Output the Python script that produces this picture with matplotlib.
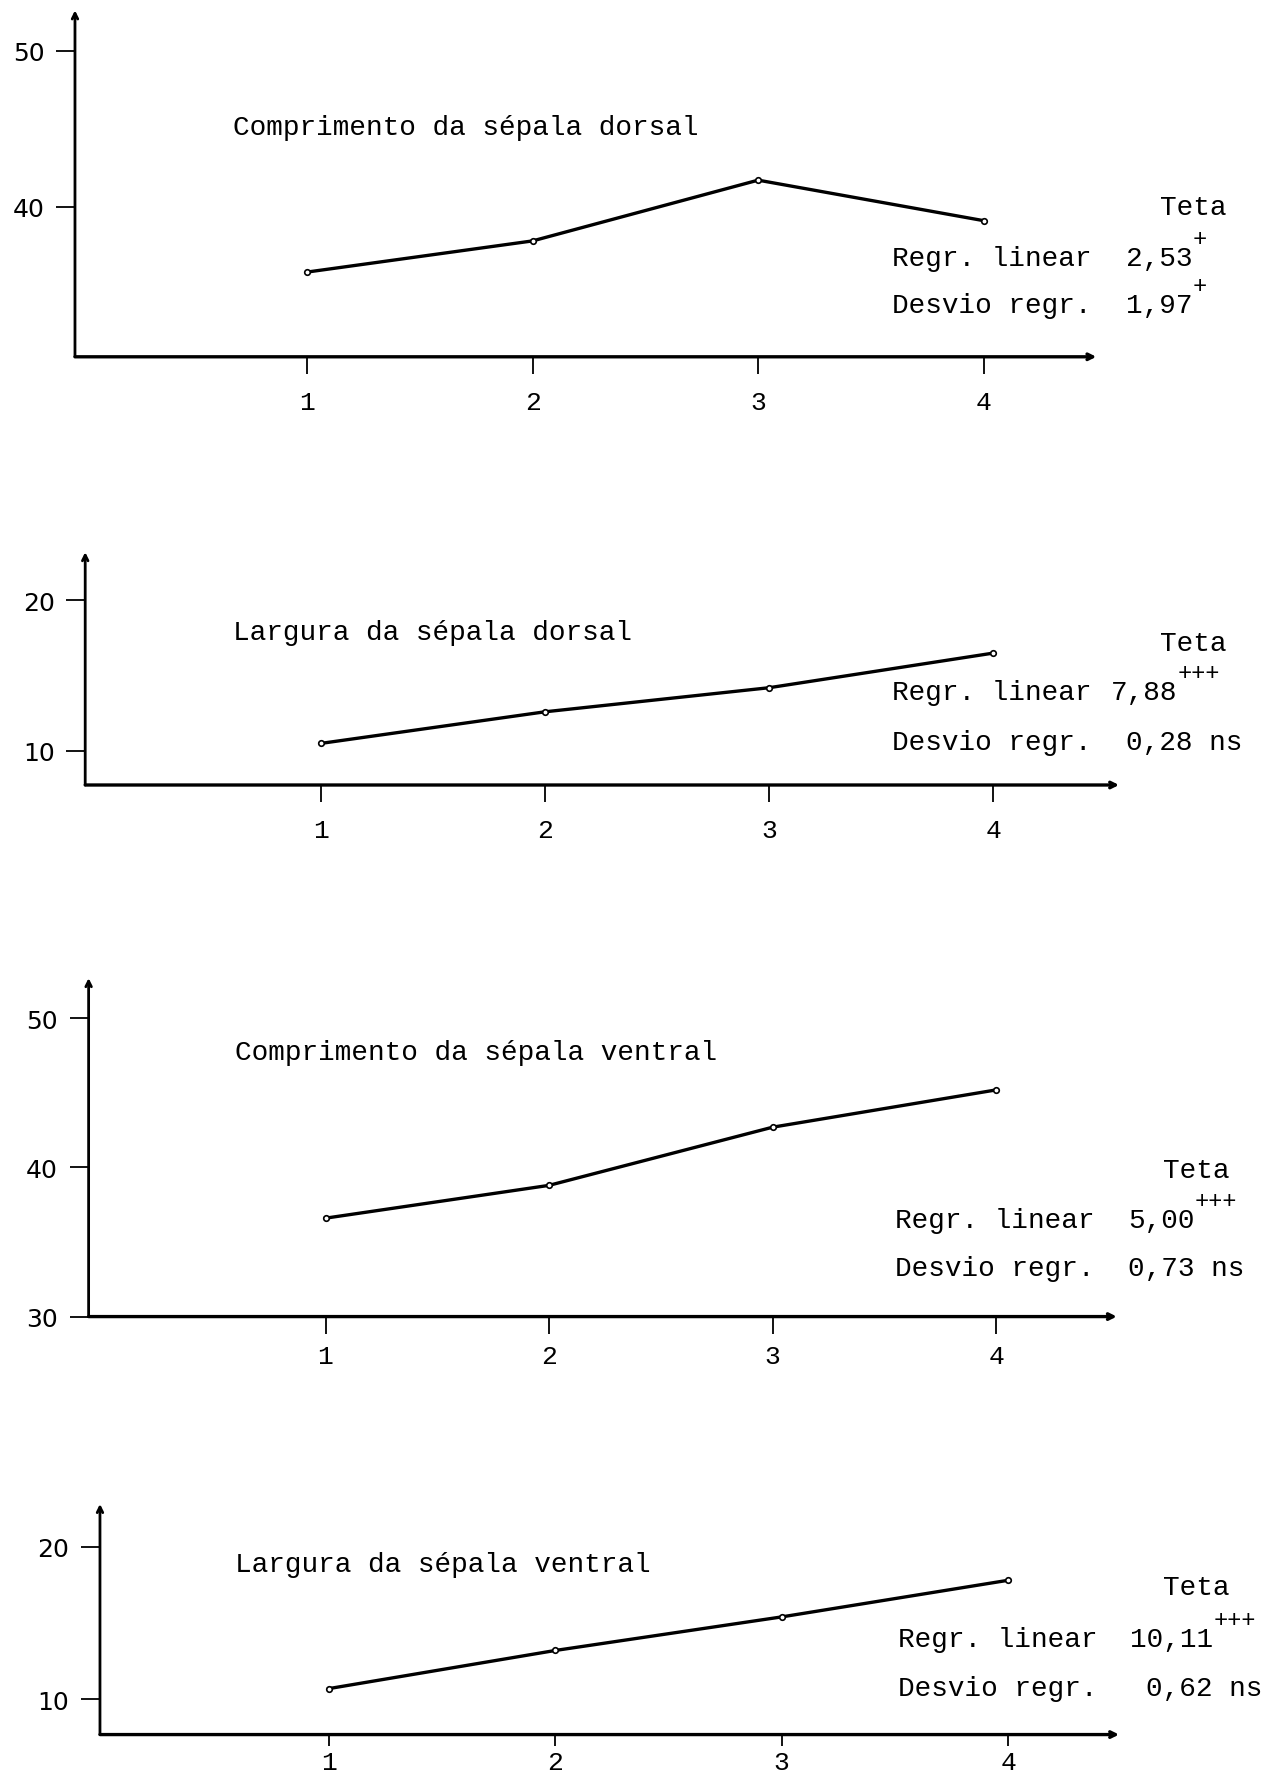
import matplotlib
matplotlib.use("Agg")
import matplotlib.pyplot as plt

# data
niveis = [1, 2, 3, 4]
comp_dorsal = [35.8, 37.8, 41.7, 39.1]
larg_dorsal = [10.5, 12.6, 14.2, 16.5]
comp_ventral = [36.6, 38.8, 42.7, 45.2]
larg_ventral = [10.7, 13.2, 15.4, 17.8]

titulos = ["Comprimento da sépala dorsal", "Largura da sépala dorsal",
           "Comprimento da sépala ventral", "Largura da sépala ventral"]
yticks = [[40, 50], [10, 20], [30, 40, 50], [10, 20]]
regr_linear = ["2,53", "7,88", "5,00", "10,11"]
regr_sig = ["+", "+++", "+++", "+++"]
desvio = ["1,97", "0,28 ns", "0,73 ns", "0,62 ns"]
desvio_sig = ["+", "", "", ""]

series = [comp_dorsal, larg_dorsal, comp_ventral, larg_ventral]

# layout in pixels of a 1117x1568 page: (left, top, right, bottom), xlim, ylim
W, H = 1117, 1568
boxes = [(66, 10, 965, 315), (75, 487, 985, 692), (78, 862, 983, 1160), (88, 1325, 985, 1528)]
xlims = [(-0.03, 4.50), (-0.05, 4.56), (-0.06, 4.54), (-0.01, 4.49)]
ylims = [(30.36, 52.6), (7.74, 23.2), (30.0, 52.7), (7.69, 22.8)]
tick_len = [12, 12, 12, 8]
tick_pad = [12, 12, 8, 3]
title_pos = [(205, 113), (205, 557), (207, 927), (207, 1378)]
teta_pos = [(1080, 183), (1080, 567), (1082, 1031), (1082, 1398)]
regr_pos = [(785, 228, 991), (785, 610, 978), (788, 1075, 993), (790, 1444, 995)]
desv_pos = [(785, 269, 991), (785, 654, 991), (788, 1117, 993), (790, 1487, 1009)]

mono = "Liberation Mono"
fs = 20

fig = plt.figure(figsize=(12.69, 17.81), dpi=100)


def ftxt(x, y, s, **kw):
    return fig.text(x / W, 1 - y / H, s, family=mono, fontsize=fs, va="center", **kw)


for i in range(4):
    l, t, r, b = boxes[i]
    ax = fig.add_axes([l / W, 1 - b / H, (r - l) / W, (b - t) / H])
    ax.set_xlim(*xlims[i])
    ax.set_ylim(*ylims[i])
    for s in ax.spines.values():
        s.set_visible(False)

    # hand-drawn style axes with arrows
    ax.annotate("", xy=(0, 1), xytext=(0, 0), xycoords="axes fraction",
                arrowprops=dict(arrowstyle="->", lw=2.0, color="black", shrinkA=0, shrinkB=0))
    ax.annotate("", xy=(1, 0), xytext=(0, 0), xycoords="axes fraction",
                arrowprops=dict(arrowstyle="->", lw=2.4, color="black", shrinkA=0, shrinkB=0))

    ax.plot(niveis, series[i], color="black", lw=2.4, marker="o", ms=4,
            mfc="white", mec="black", mew=1.2)

    ax.set_xticks(niveis)
    ax.set_xticklabels([str(n) for n in niveis], family=mono, fontsize=19)
    ax.tick_params(axis="x", direction="out", length=tick_len[i], width=1.3, pad=tick_pad[i])
    ax.set_yticks(yticks[i])
    ax.set_yticklabels([str(v) for v in yticks[i]], family="DejaVu Sans", fontsize=18)
    ax.tick_params(axis="y", direction="out", length=14, width=1.3, pad=8)

    ftxt(*title_pos[i], titulos[i], ha="left")
    ftxt(*teta_pos[i], "Teta", ha="right")

    x0, y0, xv = regr_pos[i]
    ftxt(x0, y0, "Regr. linear", ha="left")
    tv = ftxt(xv, y0, regr_linear[i], ha="left")
    plt.annotate(regr_sig[i], xy=(1, 0.8), xycoords=tv, family=mono, fontsize=17,
                 ha="left", va="bottom")

    x0, y0, xv = desv_pos[i]
    ftxt(x0, y0, "Desvio regr.", ha="left")
    tv = ftxt(xv, y0, desvio[i], ha="left")
    if desvio_sig[i]:
        plt.annotate(desvio_sig[i], xy=(1, 0.8), xycoords=tv, family=mono, fontsize=17,
                     ha="left", va="bottom")

fig.savefig("out.png", dpi=100)
